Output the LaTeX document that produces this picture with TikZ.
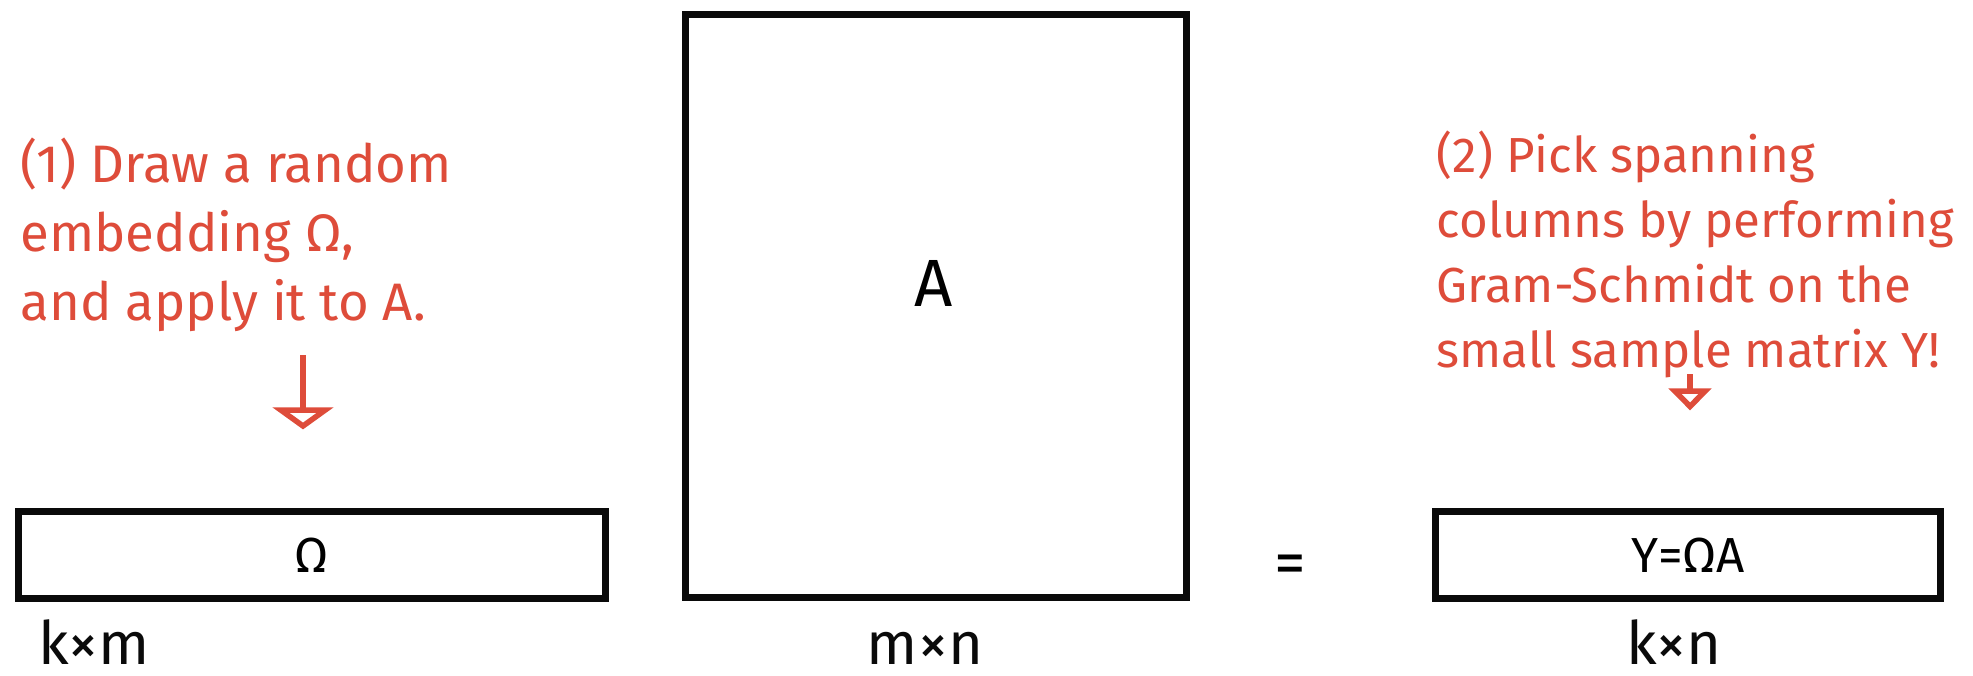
\documentclass[tikz,border=0pt]{standalone}
\usepackage{fontspec}
\setmainfont{Fira Sans}
\usetikzlibrary{positioning,arrows.meta}
\definecolor{pen}{RGB}{222,76,58}
\definecolor{ink}{RGB}{10,10,10}
\tikzset{
  mat/.style={draw=ink, line width=2pt, inner sep=0pt, font=#1},
  mat/.default={\fontsize{14}{16}\selectfont},
  note/.style={text=pen, align=left, inner sep=0pt, anchor=north west, font=#1},
  note/.default={\fontsize{15}{19.6}\selectfont},
  dim/.style={text=ink, inner sep=0pt, anchor=base, font=\fontsize{17}{20}\selectfont},
  penarrow/.style={-{Triangle[open, width=#1, length=0.22cm]}, line width=1.6pt, draw=pen},
  penarrow/.default={0.6cm}
}

\begin{document}
\begin{tikzpicture}[x=0.01cm, y=-0.01cm]
    \useasboundingbox (0,0) rectangle (1973,676);
    % the three matrices
    \node[mat, minimum width=5.86cm, minimum height=0.86cm] (omega) at (312,555) {Ω};
    \node[mat={\fontsize{19}{22}\selectfont}, minimum width=5.01cm, minimum height=5.83cm] (A) at (936,306) {};
    \node[font=\fontsize{19}{22}\selectfont] (Aname) at (934,283) {A};
    \node[font=\fontsize{18}{20}\selectfont] (eq) at (1290,570) {=};
    \node[mat, minimum width=5.04cm, minimum height=0.86cm] (Y) at (1688,555) {Y=ΩA};
    % sizes
    \node[dim] (kxm) at (94,664) {k×m};
    \node[dim] (mxn) at (925,664) {m×n};
    \node[dim] (kxn) at (1674,664) {k×n};
    % annotations
    \node[note] (step1) at (20,137) {(1) Draw a random\\ embedding Ω,\\ and apply it to A.};
    \node[note={\fontsize{14}{18.5}\selectfont}] (step2) at (1436,130) {(2) Pick spanning\\ columns by performing\\ Gram-Schmidt on the\\ small sample matrix Y!};
    \coordinate (s1) at (303,355);
    \coordinate (s2) at (1690,374);
    \draw[penarrow, shorten >=0.79cm] (s1) -- (s1 |- omega.north);
    \draw[penarrow=0.42cm, shorten >=0.98cm] (s2) -- (s2 |- Y.north);
\end{tikzpicture}
\end{document}
